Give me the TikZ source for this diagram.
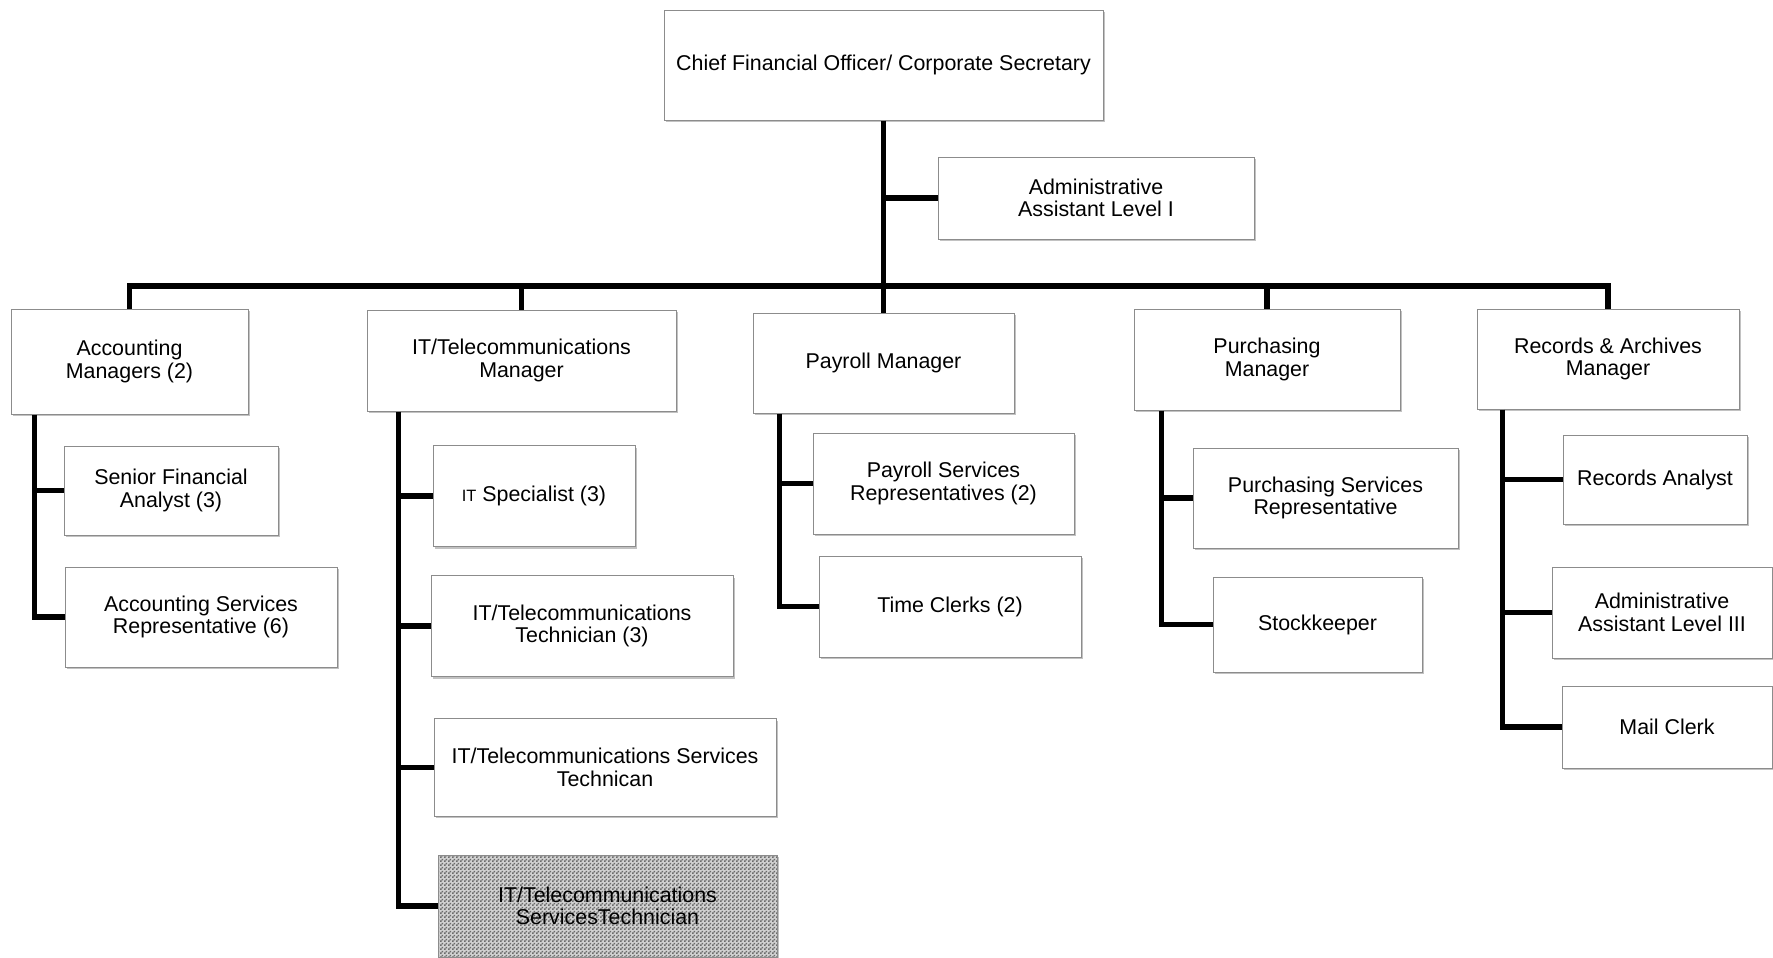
\documentclass[tikz,border=0pt]{standalone}
\usepackage{fontspec}
\setmainfont{Liberation Sans}
\usetikzlibrary{calc, shadows, patterns}
\pgfdeclarepatternformonly{finechk}{\pgfpointorigin}{\pgfqpoint{2pt}{2pt}}{\pgfqpoint{2pt}{2pt}}{%
  \pgfpathrectangle{\pgfpointorigin}{\pgfqpoint{1pt}{1pt}}%
  \pgfpathrectangle{\pgfqpoint{1pt}{1pt}}{\pgfqpoint{1pt}{1pt}}%
  \pgfusepath{fill}}

\begin{document}
\begin{tikzpicture}[x=0.5pt, y=-0.5pt, every node/.style={font=\fontsize{10.7}{11.2}\selectfont},
  box/.style={draw=black!45, line width=0.5pt, fill=white, align=center, inner sep=2pt,
    drop shadow={shadow xshift=0.8pt, shadow yshift=-1pt, fill=black!40, opacity=0.6}},
  link/.style={line width=2.6pt}]
  \useasboundingbox (0,0) rectangle (1773,958);
  \node[box, minimum width=219.5pt, minimum height=55pt] (cfo) at (883.5,65) {Chief Financial Officer/ Corporate Secretary};
  \node[box, minimum width=158pt, minimum height=41pt] (adm1) at (1096,198) {Administrative\\Assistant Level I};
  \node[box, minimum width=118.5pt, minimum height=52.5pt] (acc) at (129.5,361.5) {Accounting\\Managers (2)};
  \node[box, minimum width=154.5pt, minimum height=50.5pt] (itm) at (521.5,360.5) {IT/Telecommunications\\Manager};
  \node[box, minimum width=130.5pt, minimum height=50pt] (pay) at (883.5,363) {Payroll Manager};
  \node[box, minimum width=133pt, minimum height=50.5pt] (pur) at (1267,359.5) {Purchasing\\Manager};
  \node[box, minimum width=131pt, minimum height=50pt] (rec) at (1608,359) {Records \& Archives\\Manager};
  % accounting
  \node[box, minimum width=107pt, minimum height=44.5pt] (sfa) at (171,490.5) {Senior Financial\\Analyst (3)};
  \node[box, minimum width=136pt, minimum height=50pt] (asr) at (201,617) {Accounting Services\\Representative (6)};
  % it
  \node[box, minimum width=101pt, minimum height=50.5pt] (its) at (534,496) {{\fontsize{8.2}{10}\selectfont IT} Specialist (3)};
  \node[box, minimum width=151pt, minimum height=50.5pt] (itt) at (582,626) {IT/Telecommunications\\Technician (3)};
  \node[box, minimum width=171pt, minimum height=48.75pt] (itst) at (605,767.5) {IT/Telecommunications Services\\Technican};
  \node[box, minimum width=169.5pt, minimum height=51pt, preaction={fill=black!18}, pattern=finechk, pattern color=black!58] (itsv) at (607.5,906) {IT/Telecommunications\\ServicesTechnician};
  % payroll
  \node[box, minimum width=130.5pt, minimum height=50.5pt] (psr) at (943.5,483.5) {Payroll Services\\Representatives (2)};
  \node[box, minimum width=131pt, minimum height=50.5pt] (tclk) at (950,606.5) {Time Clerks (2)};
  % purchasing
  \node[box, minimum width=132.5pt, minimum height=50pt] (pusr) at (1325.5,498) {Purchasing Services\\Representative};
  \node[box, minimum width=104.5pt, minimum height=47.5pt] (stk) at (1317.5,624.5) {Stockkeeper};
  % records
  \node[box, minimum width=92pt, minimum height=44.5pt] (ra) at (1655,479.5) {Records Analyst};
  \node[box, minimum width=110pt, minimum height=45.5pt] (aa3) at (1662,612.5) {Administrative\\Assistant Level III};
  \node[box, minimum width=105pt, minimum height=41pt] (mclk) at (1667,727) {Mail Clerk};

  \coordinate (bar) at (883.5,286);
  \draw[link] (cfo.south) -- (bar);
  \draw[link] (adm1.west) -- (adm1.west -| cfo.south);
  \draw[link] (acc.north) |- (bar) -| (rec.north);
  \draw[link] (itm.north) -- (itm.north |- bar);
  \draw[link] (pay.north) -- (pay.north |- bar);
  \draw[link] (pur.north) -- (pur.north |- bar);

  \coordinate (acc-t) at ($(acc.south west)+(24,0)$);
  \draw[link] (acc-t) |- (asr.west);
  \draw[link] (acc-t |- sfa.west) -- (sfa.west);
  \coordinate (itm-t) at ($(itm.south west)+(32,0)$);
  \draw[link] (itm-t) |- (itsv.west);
  \draw[link] (itm-t |- its.west) -- (its.west);
  \draw[link] (itm-t |- itt.west) -- (itt.west);
  \draw[link] (itm-t |- itst.west) -- (itst.west);
  \coordinate (pay-t) at ($(pay.south west)+(27,0)$);
  \draw[link] (pay-t) |- (tclk.west);
  \draw[link] (pay-t |- psr.west) -- (psr.west);
  \coordinate (pur-t) at ($(pur.south west)+(28,0)$);
  \draw[link] (pur-t) |- (stk.west);
  \draw[link] (pur-t |- pusr.west) -- (pusr.west);
  \coordinate (rec-t) at ($(rec.south west)+(26,0)$);
  \draw[link] (rec-t) |- (mclk.west);
  \draw[link] (rec-t |- ra.west) -- (ra.west);
  \draw[link] (rec-t |- aa3.west) -- (aa3.west);
\end{tikzpicture}
\end{document}
